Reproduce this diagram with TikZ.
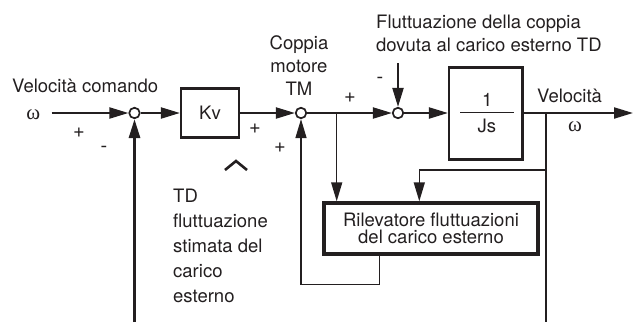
\documentclass[tikz,border=0pt]{standalone}
\usepackage{fontspec}
\setmainfont{TeX Gyre Heros}
\newfontfamily\greekfont{Liberation Serif}
\usepackage{tikz}
\usetikzlibrary{arrows.meta,calc,positioning}
\definecolor{ink}{HTML}{231F20}

\begin{document}
\begin{tikzpicture}[x=1pt,y=1pt,>={Triangle[length=19pt,width=11pt]},
  txt/.style={inner sep=0pt,font=\fontsize{18.5}{23}\selectfont,text=ink},
  sgn/.style={inner sep=0pt,font=\fontsize{20}{20}\selectfont,text=ink},
  omg/.style={inner sep=0pt,font=\greekfont\fontsize{21}{21}\selectfont,text=ink},
  blk/.style={draw=ink,line width=2.2pt,inner sep=0pt},
  sumj/.style={circle,draw=ink,fill=white,line width=1.7pt,minimum size=10.5pt,inner sep=0pt},
  fwd/.style={draw=ink,line width=2.1pt},
  fbk/.style={draw=ink,line width=2.9pt},
  aux/.style={draw=ink,line width=1.5pt}]
\useasboundingbox (0,0) rectangle (641,-322);
\node[sumj] (s1) at (134.5,-113) {};
\node[blk,txt,minimum width=58pt,minimum height=49pt] (kv) at (210,-113) {Kv};
\node[sumj] (s2) at (301,-113) {};
\node[sumj] (s3) at (398,-113) {};
\node[blk,minimum width=73.5pt,minimum height=92pt] (plant) at (485.8,-113.5) {};
\node[txt] (num) at ($(plant.center)+(1.5,14)$) {1};
\node[txt] (den) at ($(plant.center)+(1,-12.5)$) {Js};
\draw[aux] ($(plant.center)+(-25.5,1.2)$) -- ($(plant.center)+(28,1.2)$);
\node[blk,txt,line width=3.2pt,minimum width=214pt,minimum height=51pt,align=center,
  font=\fontsize{18.5}{17.3}\selectfont] (det) at (431,-228.4) {Rilevatore fluttuazioni\\del carico esterno};
\coordinate (win) at (51.7,-113);
\coordinate (td) at (398,-63);
\coordinate (b1) at (336.7,-113);
\coordinate (b2) at (546,-113);
\coordinate (b3) at (546,-170);
\coordinate (wout) at (633,-113);
\coordinate (fb1) at (134.5,-322);
\coordinate (fb2) at (546,-322);
\coordinate (lp) at (301,-284.3);
\draw[fwd,->] (win) -- (s1);
\draw[fwd,->] (s1) -- (kv);
\draw[fwd,->] (kv) -- (s2);
\draw[fwd,->] (s2) -- (s3);
\draw[fwd,->] (td) -- (s3);
\draw[fwd,->] (s3) -- (s3 -| plant.west);
\draw[fwd,->] (s3 -| plant.east) -- (wout);
\draw[fbk,->] (fb1) -- (s1);
\draw[fbk] (b2) -- (fb2);
\draw[aux,->] (b1) -- (b1 |- det.north);
\draw[aux,->] (b3) -| ($(det.north)+(-11.7,0)$);
\draw[aux,->] ($(det.south)+(-51.7,0)$) |- (lp) -- (s2);
\node[txt,anchor=base west] (cmd) at (12,-92.7) {Velocità comando};
\node[omg] (wref) at (33.4,-115) {ω};
\node[sgn] (p1) at (79,-133) {+};
\node[sgn] (m1) at (104,-149.5) {-};
\node[sgn] (p2) at (255,-129) {+};
\node[sgn] (p3) at (280,-148) {+};
\node[sgn] (p4) at (350,-98) {+};
\node[sgn] (m2) at (380,-80.5) {-};
\node[txt,align=center,anchor=north] (tm) at (299,-35) {Coppia\\motore\\TM};
\node[txt,align=left,anchor=north west] (dist) at (376,-15) {Fluttuazione della coppia\\dovuta al carico esterno TD};
\node[txt,anchor=base west] (vel) at (537,-102.7) {Velocità};
\node[omg] (wvel) at (575,-126.7) {ω};
\node[txt,align=left,anchor=north west,font=\fontsize{18.5}{25.2}\selectfont] (tdest) at (173,-188.4) {TD\\fluttuazione\\stimata del\\carico\\esterno};
\draw[ink,line width=2.6pt] (225,-170) -- (236,-161) -- (247,-170);
\end{tikzpicture}
\end{document}
